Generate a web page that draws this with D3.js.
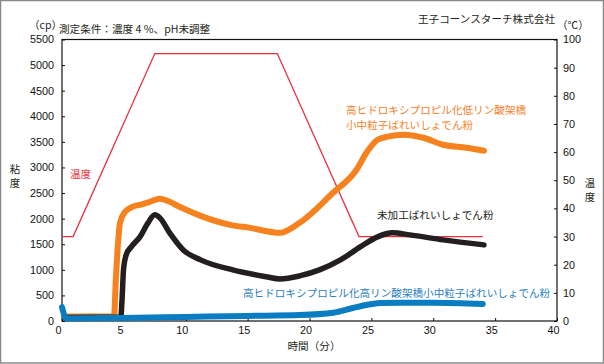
<!DOCTYPE html>
<html><head><meta charset="utf-8">
<script src="https://cdn.jsdelivr.net/npm/d3@7/dist/d3.min.js"></script>
<style>
body{margin:0;background:#fff;}
svg text{font-family:"Liberation Sans",Arial,sans-serif;}
.jp{font-family:"Noto Sans CJK JP","Noto Sans",sans-serif;}
</style></head>
<body><svg id="c" width="604" height="364"></svg>
<script>
// time (min) and viscosity (cp)
const orangeTime = [0.2,4.2,4.36,4.5,4.69,5.1,5.7,6.3,7.1,7.9,8.7,9.5,11.2,13.6,15.2,17.6,19.2,21.9,23.8,24.6,25.5,26.3,27.6,29.2,30.8,32.7,34.1];
const orangeCp   = [90,90,861,1429,1918,2133,2231,2270,2329,2388,2329,2231,2055,1879,1820,1722,1918,2505,2955,3288,3542,3601,3640,3581,3444,3386,3327];
const blackTime = [0.3,4.75,4.85,4.97,5.2,5.6,6.3,6.95,7.5,7.9,8.7,9.8,11.2,13.8,16.6,17.6,19.2,20.8,22.5,24.1,25.5,26.7,28.1,30.8,34.1];
const blackCp   = [70,80,411,1000,1300,1450,1644,1918,2074,2016,1722,1389,1194,998,861,822,881,998,1194,1448,1644,1722,1683,1585,1487];
const blueTime = [0,0.1,0.3,5,10,15,19.2,21.9,23.5,24.6,25.7,27.3,30,34];
const blueCp   = [270,180,50,60,80,100,117,162,254,313,352,358,358,333];
const tempTime = [0,0.9,7.5,17.4,24.0,34.0];
const tempC    = [30,30,95,95,30,30];
const xTicks = [0,5,10,15,20,25,30,35,40];
const yTicks = [0,500,1000,1500,2000,2500,3000,3500,4000,4500,5000,5500];
const y2Ticks = [0,10,20,30,40,50,60,70,80,90,100];

const svg = d3.select("#c");
const L=62,R=557,T=39.5,B=321;
const x = d3.scaleLinear().domain([0,40]).range([L,R]);
const y = d3.scaleLinear().domain([0,5500]).range([B,T]);
const y2 = d3.scaleLinear().domain([0,100]).range([B,T]);

svg.append("rect").attr("x",0.5).attr("y",0.5).attr("width",603).attr("height",362.5)
  .attr("fill","none").attr("stroke","#8a8a8a").attr("stroke-width",1.5);

// axes
const gx = svg.append("g").attr("transform",`translate(0,${B})`)
  .call(d3.axisBottom(x).tickValues(xTicks).tickSize(-3).tickPadding(5).tickFormat(d3.format("d")));
gx.selectAll("text").attr("dx",-4);
const gy = svg.append("g").attr("transform",`translate(${L},0)`)
  .call(d3.axisLeft(y).tickValues(yTicks).tickSize(-3).tickPadding(8).tickFormat(d3.format("d")));
const gy2 = svg.append("g").attr("transform",`translate(${R},0)`)
  .call(d3.axisRight(y2).tickValues(y2Ticks).tickSize(-3).tickPadding(6).tickFormat(d3.format("d")));
[gx,gy,gy2].forEach(g=>{
  g.select(".domain").remove();
  g.selectAll("line").attr("stroke","#111");
  g.selectAll("text").attr("font-size","10.8px").attr("fill","#111").attr("font-family","Liberation Sans, Arial, sans-serif");
});
svg.append("rect").attr("x",L).attr("y",T).attr("width",R-L).attr("height",B-T)
  .attr("fill","none").attr("stroke","#111").attr("stroke-width",1.2);

// temperature line
const tl = d3.line().x((d,i)=>x(tempTime[i])).y(d=>y2(d));
svg.append("path").attr("d",tl(tempC)).attr("fill","none").attr("stroke","#e8303a").attr("stroke-width",1.3);

function draw(ts,vs,col,w){
  const ln = d3.line().x((d,i)=>x(ts[i])).y(d=>y(d)).curve(d3.curveMonotoneX);
  svg.append("path").attr("d",ln(vs)).attr("fill","none").attr("stroke",col)
    .attr("stroke-width",w).attr("stroke-linejoin","round").attr("stroke-linecap","round");
}
draw(orangeTime,orangeCp,"#f5821f",6);
draw(blackTime,blackCp,"#231f20",5.5);
draw(blueTime,blueCp,"#0a7dc2",6);

function txt(s,xx,yy,opt={}){
  return svg.append("text").attr("class","jp").attr("x",xx).attr("y",yy)
    .attr("font-size",opt.size||"10.6px").attr("fill",opt.fill||"#231f20")
    .attr("text-anchor",opt.anchor||"start").attr("dominant-baseline","middle").text(s);
}
txt("（cp）",29,26);
txt("測定条件：濃度 4 %、pH未調整",59,30);
txt("王子コーンスターチ株式会社",555,20,{anchor:"end"});
txt("（℃）",557,26);
txt("粘",15,170,{anchor:"middle",size:"10.4px"});
txt("度",15,184,{anchor:"middle",size:"10.4px"});
txt("温",590,184,{anchor:"middle",size:"10.4px"});
txt("度",590,198,{anchor:"middle",size:"10.4px"});
txt("時間（分）",314,347,{anchor:"middle"});
txt("温度",70,175,{fill:"#e8303a"});
txt("高ヒドロキシプロピル化低リン酸架橋",346,111,{fill:"#f5822a"});
txt("小中粒子ばれいしょでん粉",346,126,{fill:"#f5822a"});
txt("未加工ばれいしょでん粉",377,216);
txt("高ヒドロキシプロピル化高リン酸架橋小中粒子ばれいしょでん粉",243,294,{fill:"#2a7fc0"});
</script></body></html>
